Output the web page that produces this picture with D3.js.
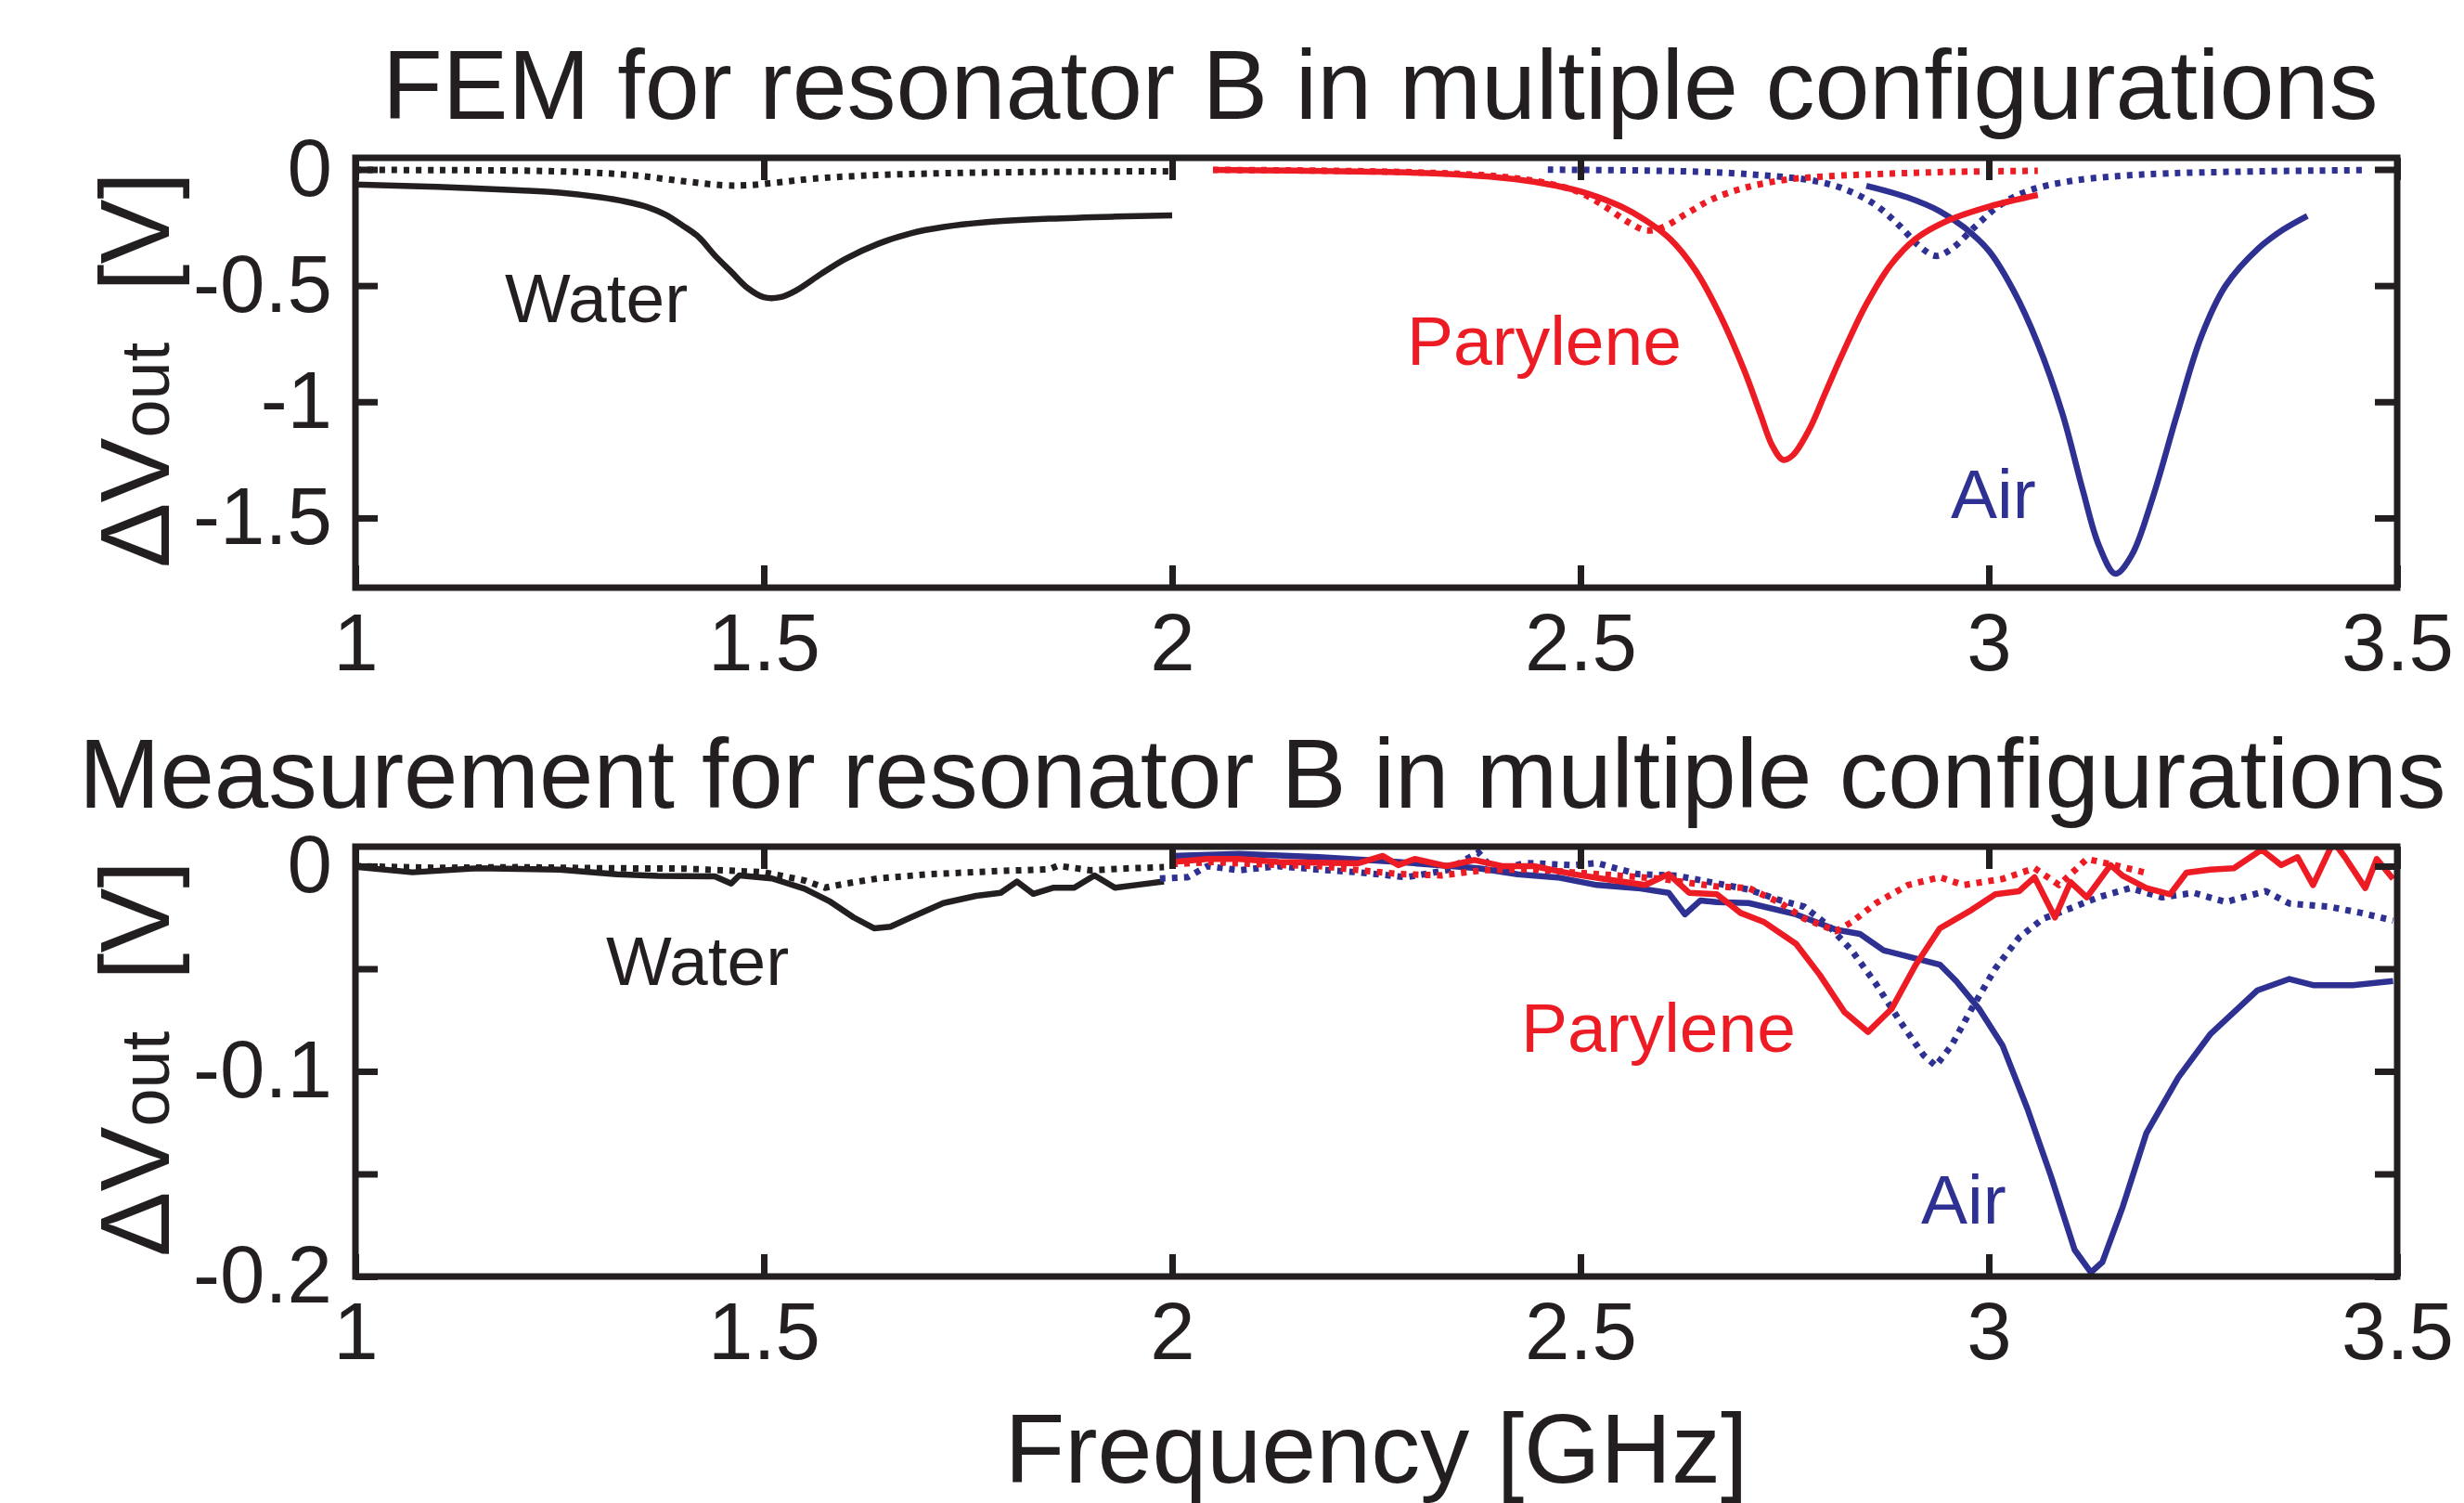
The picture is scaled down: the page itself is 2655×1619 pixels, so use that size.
<!DOCTYPE html>
<html>
<head>
<meta charset="utf-8">
<script src="https://cdn.jsdelivr.net/npm/d3@7"></script>
<style>
  body { margin: 0; background: #fff; }
  text { font-family: "Liberation Sans", Arial, Helvetica, sans-serif; fill: #231f20; }
</style>
</head>
<body>
<svg width="2655" height="1619"></svg>
<script>
// colours
var black = "#231f20", red = "#ed1c24", blue = "#2e3192";

// x ticks shared by both panels
var xTicks = [1, 1.5, 2, 2.5, 3, 3.5];

// FEM panel, [frequency GHz, dVout V]
var femWater = [[1.00,-0.065],[1.10,-0.075],[1.20,-0.09],[1.25,-0.10],[1.30,-0.12],[1.33,-0.138],[1.36,-0.165],
  [1.38,-0.195],[1.40,-0.24],[1.42,-0.29],[1.44,-0.37],[1.46,-0.44],[1.48,-0.51],[1.50,-0.55],[1.52,-0.55],
  [1.54,-0.52],[1.57,-0.45],[1.60,-0.385],[1.64,-0.32],[1.68,-0.275],[1.72,-0.248],[1.77,-0.228],[1.85,-0.212],
  [1.93,-0.203],[2.00,-0.198]];
var femWaterDot = [[1.00,-0.002],[1.10,-0.003],[1.20,-0.005],[1.28,-0.012],[1.34,-0.025],[1.40,-0.05],[1.45,-0.068],
  [1.48,-0.068],[1.52,-0.055],[1.56,-0.04],[1.62,-0.027],[1.70,-0.018],[1.80,-0.012],[1.90,-0.009],[2.00,-0.008]];
var femParylene = [[2.05,-0.002],[2.15,-0.005],[2.25,-0.01],[2.35,-0.022],[2.42,-0.042],[2.47,-0.07],[2.51,-0.105],
  [2.55,-0.16],[2.58,-0.22],[2.61,-0.30],[2.64,-0.43],[2.67,-0.62],[2.70,-0.86],[2.72,-1.05],[2.735,-1.19],
  [2.748,-1.25],[2.76,-1.23],[2.78,-1.12],[2.80,-0.96],[2.82,-0.80],[2.85,-0.58],[2.88,-0.41],[2.91,-0.30],
  [2.95,-0.22],[3.00,-0.16],[3.06,-0.11]];
var femParyleneDot = [[2.05,-0.002],[2.20,-0.006],[2.32,-0.015],[2.40,-0.03],[2.46,-0.06],[2.50,-0.10],[2.53,-0.16],
  [2.56,-0.23],[2.58,-0.262],[2.60,-0.25],[2.63,-0.19],[2.66,-0.13],[2.70,-0.08],[2.75,-0.045],[2.80,-0.03],
  [2.88,-0.018],[2.96,-0.01],[3.06,-0.006]];
var femAir = [[2.85,-0.07],[2.90,-0.12],[2.94,-0.18],[2.97,-0.25],[3.00,-0.35],[3.03,-0.52],[3.06,-0.75],
  [3.09,-1.05],[3.115,-1.38],[3.135,-1.62],[3.155,-1.74],[3.175,-1.66],[3.20,-1.42],[3.23,-1.06],[3.26,-0.72],
  [3.29,-0.50],[3.33,-0.34],[3.36,-0.26],[3.39,-0.20]];
var femAirDot = [[2.46,-0.001],[2.60,-0.006],[2.68,-0.015],[2.74,-0.03],[2.78,-0.045],[2.82,-0.08],[2.86,-0.15],
  [2.89,-0.24],[2.915,-0.33],[2.935,-0.372],[2.955,-0.34],[2.985,-0.24],[3.015,-0.15],[3.05,-0.09],[3.10,-0.05],
  [3.16,-0.028],[3.22,-0.017],[3.30,-0.01],[3.40,-0.005],[3.46,-0.003]];

// measurement panel
var measWater = [[1.00,-0.0003],[1.07,-0.003],[1.15,-0.001],[1.25,-0.0017],[1.32,-0.004],[1.37,-0.0047],
  [1.44,-0.005],[1.46,-0.0085],[1.47,-0.0045],[1.51,-0.006],[1.55,-0.011],[1.58,-0.017],[1.61,-0.025],
  [1.635,-0.0303],[1.655,-0.0295],[1.68,-0.025],[1.72,-0.018],[1.76,-0.0145],[1.79,-0.013],[1.81,-0.0075],
  [1.83,-0.0135],[1.855,-0.0105],[1.88,-0.0105],[1.905,-0.0045],[1.93,-0.0105],[1.96,-0.009],[1.99,-0.0075]];
var measWaterDot = [[1.00,0.0],[1.10,-0.0008],[1.20,-0.0005],[1.30,-0.001],[1.40,-0.0012],[1.45,-0.002],
  [1.50,-0.003],[1.55,-0.007],[1.575,-0.0105],[1.60,-0.0085],[1.64,-0.006],[1.70,-0.004],[1.78,-0.0025],
  [1.85,-0.0015],[1.86,0.0002],[1.90,-0.002],[1.95,-0.001],[1.99,-0.0005]];
var measParylene = [[2.00,0.002],[2.043,0.0035],[2.082,0.0035],[2.13,0.002],[2.228,0.0014],[2.258,0.005],
  [2.277,0.0005],[2.297,0.0035],[2.336,0.0],[2.37,0.003],[2.404,0.0],[2.443,0.0],[2.491,-0.0039],[2.54,-0.0069],
  [2.579,-0.0092],[2.608,-0.0039],[2.633,-0.013],[2.667,-0.0137],[2.696,-0.0228],[2.725,-0.0273],[2.764,-0.0379],
  [2.793,-0.053],[2.823,-0.071],[2.852,-0.0808],[2.881,-0.0695],[2.91,-0.0484],[2.94,-0.0303],[2.979,-0.0213],
  [3.008,-0.0137],[3.037,-0.0122],[3.056,-0.0054],[3.081,-0.025],[3.10,-0.0077],[3.12,-0.0152],[3.149,0.0005],
  [3.164,-0.0047],[3.193,-0.0107],[3.222,-0.0137],[3.242,-0.0032],[3.271,-0.0017],[3.30,-0.001],[3.334,0.008],
  [3.358,0.0005],[3.378,0.0044],[3.397,-0.0092],[3.422,0.0119],[3.436,0.0044],[3.461,-0.0107],[3.475,0.0035],
  [3.495,-0.0062]];
var measParyleneDot = [[2.00,0.001],[2.05,0.002],[2.10,0.001],[2.18,0.0],[2.23,-0.002],[2.28,-0.0039],
  [2.33,-0.0045],[2.38,-0.002],[2.44,-0.0015],[2.49,-0.003],[2.55,-0.0047],[2.60,-0.0062],[2.63,-0.008],
  [2.667,-0.0099],[2.706,-0.0107],[2.745,-0.018],[2.774,-0.0256],[2.813,-0.0317],[2.832,-0.0273],[2.862,-0.018],
  [2.901,-0.0092],[2.94,-0.0054],[2.969,-0.0092],[3.017,-0.0062],[3.056,-0.001],[3.086,-0.0092],[3.12,0.0035],
  [3.154,0.0005],[3.19,-0.003]];
var measAir = [[2.00,0.005],[2.082,0.006],[2.18,0.0044],[2.277,0.002],[2.375,-0.001],[2.423,-0.004],
  [2.472,-0.0055],[2.52,-0.0092],[2.57,-0.0107],[2.608,-0.013],[2.628,-0.0235],[2.647,-0.0167],[2.667,-0.0175],
  [2.706,-0.018],[2.764,-0.0235],[2.813,-0.031],[2.842,-0.033],[2.871,-0.041],[2.91,-0.045],[2.94,-0.048],
  [2.96,-0.056],[2.988,-0.0695],[3.017,-0.0876],[3.047,-0.118],[3.076,-0.151],[3.105,-0.187],[3.125,-0.198],
  [3.139,-0.193],[3.164,-0.166],[3.193,-0.13],[3.232,-0.103],[3.271,-0.082],[3.329,-0.0605],[3.368,-0.055],
  [3.397,-0.058],[3.446,-0.058],[3.495,-0.056]];
var measAirDot = [[1.985,-0.006],[2.019,-0.0054],[2.043,0.0],[2.082,-0.002],[2.13,0.0],[2.18,-0.0017],
  [2.228,-0.003],[2.287,-0.0054],[2.336,-0.002],[2.375,0.0067],[2.394,-0.002],[2.433,0.0015],[2.491,0.0005],
  [2.52,0.0015],[2.57,-0.0039],[2.618,-0.0047],[2.667,-0.0084],[2.706,-0.0114],[2.745,-0.0167],[2.774,-0.0198],
  [2.803,-0.0288],[2.832,-0.041],[2.862,-0.0575],[2.891,-0.0755],[2.92,-0.0921],[2.935,-0.0974],[2.954,-0.0876],
  [2.979,-0.0695],[3.008,-0.0499],[3.037,-0.0348],[3.066,-0.0257],[3.105,-0.0198],[3.134,-0.0152],[3.173,-0.0107],
  [3.212,-0.0152],[3.251,-0.013],[3.29,-0.0175],[3.339,-0.0122],[3.368,-0.0182],[3.417,-0.0198],[3.456,-0.0228],
  [3.495,-0.0265]];

var svg = d3.select("svg");
svg.append("rect").attr("width", 2655).attr("height", 1619).attr("fill", "#fff");

var x = d3.scaleLinear().domain([1, 3.5]).range([383, 2583]);

var panels = [
  {
    id: "fem", title: "FEM for resonator B in multiple configurations", titleX: 412, titleY: 128, titleSize: 106,
    y: d3.scaleLinear().domain([-1.8, 0.05]).range([633, 170]),
    yTicks: [0, -0.5, -1, -1.5], yLabeled: [0, -0.5, -1, -1.5], smooth: true,
    series: [
      { data: femWaterDot, color: black, dot: true }, { data: femWater, color: black },
      { data: femAirDot, color: blue, dot: true }, { data: femAir, color: blue },
      { data: femParyleneDot, color: red, dot: true }, { data: femParylene, color: red }
    ],
    notes: [
      { t: "Water", x: 544, y: 347, c: black }, { t: "Parylene", x: 1516, y: 393, c: red },
      { t: "Air", x: 2102, y: 558, c: blue }
    ]
  },
  {
    id: "meas", title: "Measurement for resonator B in multiple configurations", titleX: 85, titleY: 870, titleSize: 105,
    y: d3.scaleLinear().domain([-0.2, 0.0095]).range([1375, 912]),
    yTicks: [0, -0.05, -0.1, -0.15, -0.2], yLabeled: [0, -0.1, -0.2], smooth: false,
    series: [
      { data: measWaterDot, color: black, dot: true }, { data: measWater, color: black },
      { data: measAirDot, color: blue, dot: true }, { data: measAir, color: blue },
      { data: measParyleneDot, color: red, dot: true }, { data: measParylene, color: red }
    ],
    notes: [
      { t: "Water", x: 653, y: 1061, c: black }, { t: "Parylene", x: 1639, y: 1133, c: red },
      { t: "Air", x: 2070, y: 1318, c: blue }
    ]
  }
];

var fmt = function(v) { return Math.abs(v) < 1e-9 ? "0" : String(v); };

panels.forEach(function(p) {
  var top = p.y.range()[1], bottom = p.y.range()[0];
  var left = x.range()[0], right = x.range()[1];

  svg.append("text")
    .attr("x", p.titleX).attr("y", p.titleY)
    .attr("font-size", p.titleSize)
    .text(p.title);

  svg.append("clipPath").attr("id", "clip-" + p.id)
    .append("rect").attr("x", left).attr("y", top)
    .attr("width", right - left).attr("height", bottom - top);

  var line = d3.line()
    .x(function(d) { return x(d[0]); })
    .y(function(d) { return p.y(d[1]); })
    .curve(p.smooth ? d3.curveCatmullRom : d3.curveLinear);

  var lines = svg.append("g").attr("clip-path", "url(#clip-" + p.id + ")");
  p.series.forEach(function(s) {
    lines.append("path")
      .attr("d", line(s.data))
      .attr("fill", "none")
      .attr("stroke", s.color)
      .attr("stroke-width", s.dot ? 7 : 6.5)
      .attr("stroke-linejoin", "round")
      .attr("stroke-dasharray", s.dot ? "6,7" : null);
  });

  // axes, ticks pointing inward
  var axes = [
    svg.append("g").attr("transform", "translate(0," + bottom + ")")
      .call(d3.axisBottom(x).tickValues(xTicks).tickSize(-24).tickPadding(27).tickFormat(fmt)),
    svg.append("g").attr("transform", "translate(0," + top + ")")
      .call(d3.axisTop(x).tickValues(xTicks).tickSize(-24).tickFormat("")),
    svg.append("g").attr("transform", "translate(" + left + ",0)")
      .call(d3.axisLeft(p.y).tickValues(p.yTicks).tickSize(-24).tickPadding(25)
        .tickFormat(function(v) { return p.yLabeled.indexOf(v) >= 0 ? fmt(v) : ""; })),
    svg.append("g").attr("transform", "translate(" + right + ",0)")
      .call(d3.axisRight(p.y).tickValues(p.yTicks).tickSize(-24).tickFormat(""))
  ];
  axes.forEach(function(a) {
    a.select(".domain").remove();
    a.selectAll(".tick line").attr("stroke", black).attr("stroke-width", 7);
    a.selectAll(".tick text").attr("font-size", 87).attr("fill", black)
      .attr("font-family", "'Liberation Sans', Arial, Helvetica, sans-serif");
  });

  svg.append("rect")
    .attr("x", left).attr("y", top)
    .attr("width", right - left).attr("height", bottom - top)
    .attr("fill", "none").attr("stroke", black).attr("stroke-width", 7);

  p.notes.forEach(function(n) {
    svg.append("text").attr("x", n.x).attr("y", n.y)
      .attr("font-size", 75).style("fill", n.c).text(n.t);
  });

  // y axis label
  var yl = svg.append("text")
    .attr("transform", "translate(182," + ((top + bottom) / 2 - 3) + ") rotate(-90)")
    .attr("text-anchor", "middle")
    .attr("font-size", 105);
  yl.append("tspan").text("\u0394V");
  yl.append("tspan").attr("font-size", 74).text("out");
  yl.append("tspan").attr("dx", 55).text("[V]");
});

svg.append("text")
  .attr("x", d3.mean(x.range())).attr("y", 1597)
  .attr("text-anchor", "middle")
  .attr("font-size", 106)
  .text("Frequency [GHz]");
</script>
</body>
</html>
